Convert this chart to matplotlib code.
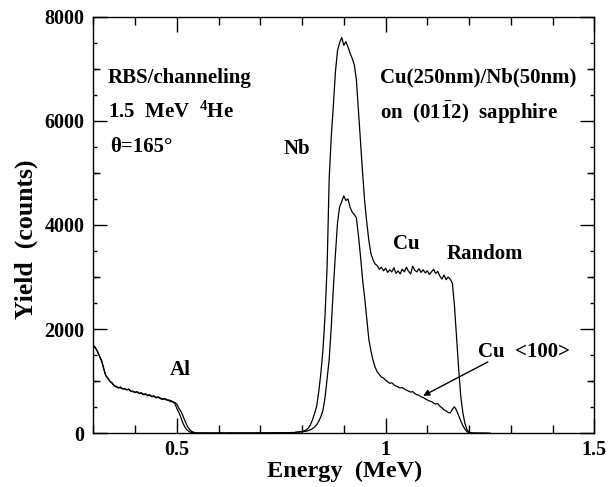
import matplotlib
matplotlib.use("Agg")
import matplotlib.pyplot as plt
import numpy as np
from matplotlib.ticker import MultipleLocator, FixedLocator, FixedFormatter

# detector channels: first energy and step (MeV)
E_START = 0.300
E_STEP = 0.005

# random spectrum, counts per channel from 0.300 MeV
random_counts = [
    1690, 1650, 1560, 1480, 1400, 1230, 1110, 1050, 1000, 960,
    920, 900, 870, 890, 850, 860, 830, 850, 800, 810,
    780, 800, 770, 780, 750, 760, 730, 740, 710, 720,
    690, 700, 680, 660, 670, 650, 640, 630, 610, 590,
    560, 480, 420, 330, 230, 140, 80, 40, 20, 10,
    6, 4, 7, 3, 5, 8, 4, 6, 3, 5,
    7, 4, 6, 5, 3, 6, 8, 4, 5, 7,
    3, 6, 4, 5, 8, 6, 4, 7, 5, 9,
    6, 8, 5, 7, 10, 6, 9, 8, 11, 7,
    10, 12, 9, 13, 11, 14, 12,
    18, 22, 28, 32, 45, 65, 100, 160, 260, 380,
    520, 800, 1150, 1600, 2250, 3200, 4900, 5700, 6300, 6950,
    7350, 7500, 7600, 7450, 7520, 7420, 7300, 7200, 7080, 6800,
    6200, 5600, 5000, 4450, 4050, 3700, 3450, 3330, 3250,
    3220, 3150, 3190, 3120, 3170, 3090, 3140, 3100, 3180, 3070,
    3120, 3060, 3150, 3100, 3190, 3110, 3060, 3210, 3130, 3100,
    3160, 3090, 3140, 3080, 3120, 3050, 3100, 3150, 3070, 3110,
    3020, 2960, 3040, 2950, 3000, 2960,
    2880, 2450, 1850, 1250, 720, 400, 190, 70, 20, 8,
    4, 3, 2, 2, 1, 1, 1, 0, 0,
]

# <100> aligned spectrum
channel_counts = [
    1670, 1640, 1580, 1470, 1380, 1250, 1100, 1060, 990, 970,
    910, 890, 880, 870, 860, 850, 840, 840, 810, 800,
    790, 790, 760, 770, 740, 750, 720, 730, 700, 710,
    680, 690, 670, 650, 660, 640, 630, 610, 600, 580,
    480, 400, 300, 190, 110, 60, 30, 15, 8, 5,
    4, 6, 3, 5, 7, 3, 5, 4, 6, 3,
    5, 6, 4, 3, 7, 5, 4, 6, 3, 5,
    6, 4, 5, 7, 4, 5, 6, 4, 8, 5,
    7, 6, 8, 5, 9, 7, 8, 10, 8, 11,
    9, 12, 10, 13, 12, 15, 14,
    18, 20, 24, 28, 32, 40, 52, 68, 90, 120,
    165, 230, 320, 440, 680, 1050, 1420, 2050, 2800, 3450,
    4050, 4350, 4450, 4560, 4470, 4500, 4340, 4250, 4200, 4140,
    3800, 3400, 2950, 2600, 2200, 1800, 1580, 1400, 1270,
    1180, 1130, 1080, 1060, 1020, 990, 960, 970, 930, 910,
    890, 870, 880, 850, 830, 810, 790, 800, 760, 740,
    730, 700, 690, 660, 640, 620, 610, 580, 560, 570,
    520, 490, 450, 430, 400, 390,
    460, 510, 440, 340, 240, 150, 80, 30, 10, 5,
    3, 2, 2, 1, 1, 1, 0, 0, 0,
]

x_major = [0.5, 1.0, 1.5]
x_major_labels = ["0.5", "1", "1.5"]
y_major = [0, 2000, 4000, 6000, 8000]
y_mid = [1000, 3000, 5000, 7000]

energy = E_START + E_STEP * np.arange(len(random_counts))

FONT = "Liberation Serif"
plt.rcParams["font.family"] = FONT
plt.rcParams["font.weight"] = "bold"
plt.rcParams["mathtext.fontset"] = "custom"
plt.rcParams["mathtext.rm"] = "Liberation Serif:bold"
plt.rcParams["mathtext.bf"] = "Liberation Serif:bold"
plt.rcParams["mathtext.default"] = "rm"

fig = plt.figure(figsize=(6.11, 4.87), dpi=100)
ax = fig.add_axes([0.1527, 0.1103, 0.8200, 0.8554])

ax.plot(energy, random_counts, color="k", lw=0.9)
ax.plot(energy, channel_counts, color="k", lw=0.9)

ax.set_xlim(0.3, 1.5)
ax.set_ylim(0, 8000)

for s in ax.spines.values():
    s.set_linewidth(1.0)

ax.xaxis.set_major_locator(FixedLocator(x_major))
ax.xaxis.set_major_formatter(FixedFormatter(x_major_labels))
ax.xaxis.set_minor_locator(MultipleLocator(0.1))
ax.yaxis.set_major_locator(FixedLocator(y_major))
ax.yaxis.set_minor_locator(MultipleLocator(500))

ax.tick_params(which="both", direction="in", top=True, right=True, width=1.0, labelsize=14.5)
ax.tick_params(axis="x", which="major", length=11, pad=5)
ax.tick_params(axis="x", which="minor", length=5.5)
ax.tick_params(axis="y", which="major", length=10, pad=6.5)
ax.tick_params(axis="y", which="minor", length=3)
for lab in ax.get_xticklabels() + ax.get_yticklabels():
    lab.set_fontweight("bold")

# medium ticks at the odd thousands
for side in ("left", "right"):
    sec = ax.secondary_yaxis(side)
    sec.set_yticks(y_mid)
    sec.tick_params(direction="in", length=5, width=1.0, labelleft=False, labelright=False)
    sec.spines[side].set_visible(False)

ax.set_xlabel("Energy  (MeV)", fontsize=17.5, fontweight="bold")
ax.set_ylabel("Yield  (counts)", fontsize=18.5, fontweight="bold")
ax.xaxis.set_label_coords(0.502, -0.066)
ax.yaxis.set_label_coords(-0.11, 0.465)

tkw = dict(fontsize=15, fontweight="bold", va="center")
ax.text(0.335, 6830, "RBS/channeling", **tkw)
ax.text(0.335, 6160, r"1.5  MeV  ${}^{4}$He", **tkw)
ax.text(0.34, 5490, "θ=165°", **tkw)
ax.text(0.787, 5450, "Nb", ha="center", **tkw)
ax.text(0.9855, 6830, "Cu(250nm)/Nb(50nm)", **tkw)
ax.text(0.9855, 6160, r"on  (01$\bar{1}$2)  sapphire", **tkw)
ax.text(1.049, 3630, "Cu", ha="center", **tkw)
ax.text(1.147, 3440, "Random", **tkw)
ax.text(1.221, 1560, "Cu  <100>", **tkw)
ax.text(0.508, 1210, "Al", ha="center", **tkw)

ax.annotate("", xy=(1.09, 720), xytext=(1.245, 1370),
            arrowprops=dict(arrowstyle="-|>", color="k", lw=1.0, mutation_scale=9,
                            shrinkA=0, shrinkB=0))

fig.savefig("out.png", dpi=100)
